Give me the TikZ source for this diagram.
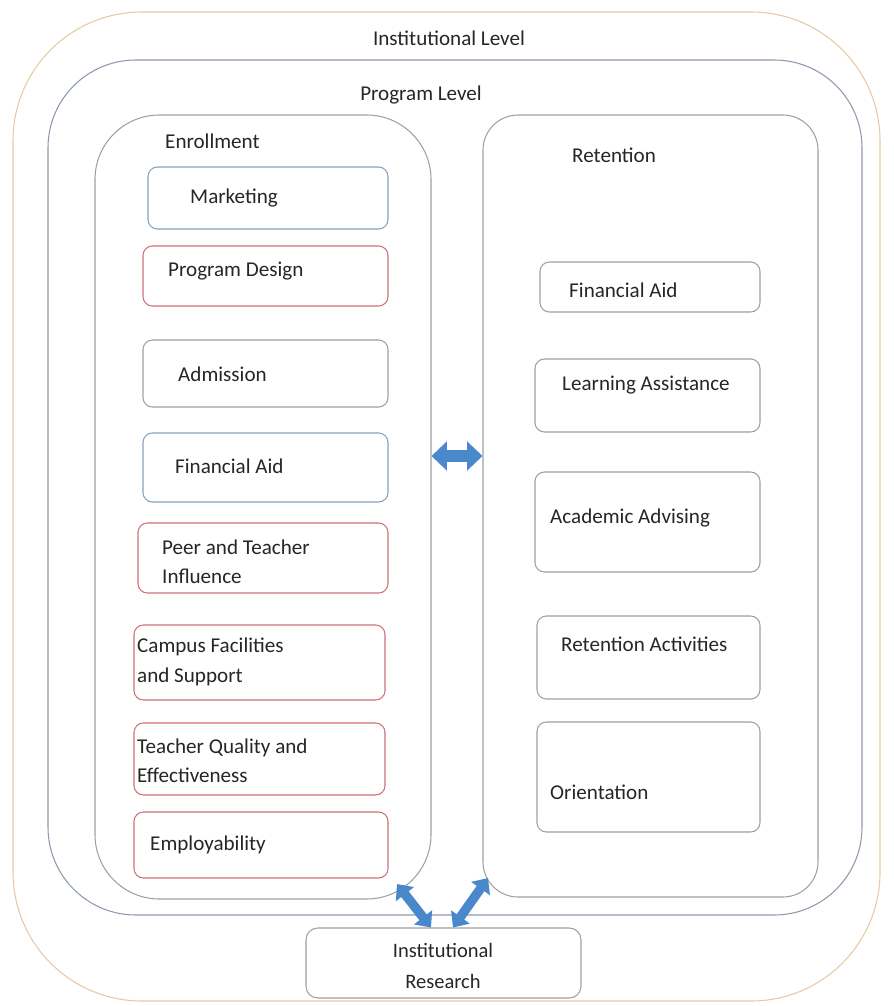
\documentclass[tikz,border=0pt]{standalone}
\usepackage{fontspec}
\setmainfont{Carlito}
\usetikzlibrary{fit,arrows.meta}
\definecolor{tan}{HTML}{E6C9A3}
\definecolor{proggray}{HTML}{8C9AAB}
\definecolor{boxgray}{HTML}{A0A0A0}
\definecolor{bluebox}{HTML}{86A2BE}
\definecolor{redbox}{HTML}{D0707A}
\definecolor{arrblue}{HTML}{4A88CC}
\definecolor{txt}{HTML}{262626}
\begin{document}
\begin{tikzpicture}[x=0.03cm,y=-0.03cm,
  every node/.style={text=txt,font=\fontsize{18}{25}\selectfont},
  frame/.style={draw,line width=0.9pt,inner sep=0pt},
  bbox/.style={draw=bluebox,line width=0.9pt,rounded corners=8pt,inner sep=0pt},
  rbox/.style={draw=redbox,line width=0.9pt,rounded corners=8pt,inner sep=0pt},
  gbox/.style={draw=boxgray,line width=0.9pt,rounded corners=8pt,inner sep=0pt},
  lbl/.style={anchor=west,align=left,inner sep=0pt},
  blockarrowsm/.style={line width=8pt,arrblue,
    {Triangle[width=19pt,length=11pt]}-{Triangle[width=19pt,length=11pt]}},
  blockarrowlg/.style={line width=10pt,arrblue,
    {Triangle[width=24pt,length=13pt]}-{Triangle[width=24pt,length=13pt]}}
]
\useasboundingbox (0,0) rectangle (893,1006);
% outer frames
\node[frame,draw=tan,rounded corners=110pt,fit={(13,12) (880,1001)}] (inst) {};
\node[frame,draw=proggray,rounded corners=75pt,fit={(48,60) (862,915)}] (prog) {};
\node[frame,draw=boxgray,rounded corners=55pt,fit={(95,115) (431,899)}] (enr) {};
\node[frame,draw=boxgray,rounded corners=30pt,fit={(483,115) (818,897)}] (ret) {};
\node (instlbl) at (449,38) {Institutional Level};
\node (proglbl) at (421,95) {Program Level};
\node[lbl] (enrlbl) at (165,141) {Enrollment};
\node[lbl] (retlbl) at (572,155) {Retention};
% enrollment boxes
\node[bbox,fit={(148,167) (388,229)}] (mk) {};
\node[lbl] (mkt) at (190,198) {Marketing};
\node[rbox,fit={(143,246) (388,306)}] (pd) {};
\node[lbl] (pdt) at (168,271) {Program Design};
\node[gbox,fit={(143,340) (388,407)}] (ad) {};
\node[lbl] (adt) at (178,374) {Admission};
\node[bbox,fit={(143,433) (388,502)}] (fa) {};
\node[lbl] (fat) at (175,466) {Financial Aid};
\node[rbox,fit={(138,523) (388,593)}] (pt) {};
\node[lbl] (ptt) at (162,562) {Peer and Teacher\\Influence};
\node[rbox,fit={(134,625) (385,700)}] (cf) {};
\node[lbl] (cft) at (137,662) {Campus Facilities\\and Support};
\node[rbox,fit={(134,723) (385,795)}] (tq) {};
\node[lbl] (tqt) at (137,761) {Teacher Quality and\\Effectiveness};
\node[rbox,fit={(134,812) (388,878)}] (em) {};
\node[lbl] (emt) at (150,845) {Employability};
% retention boxes
\node[gbox,fit={(540,262) (760,312)}] (rfa) {};
\node[lbl] (rfat) at (569,290) {Financial Aid};
\node[gbox,fit={(535,359) (760,432)}] (la) {};
\node[lbl] (lat) at (562,385) {Learning Assistance};
\node[gbox,fit={(535,472) (760,572)}] (aa) {};
\node[lbl] (aat) at (550,518) {Academic Advising};
\node[gbox,fit={(537,616) (760,699)}] (ra) {};
\node[lbl] (rat) at (561,644) {Retention Activities};
\node[gbox,fit={(537,722) (760,832)}] (or) {};
\node[lbl] (ort) at (550,792) {Orientation};
% institutional research
\node[gbox,rounded corners=10pt,fit={(306,928) (581,998)}] (ir) {};
\node[align=center,font=\fontsize{17.5}{26}\selectfont] (irt) at (443,966) {Institutional\\Research};
% arrows
\coordinate (h1) at (enr.east |- 0,456);
\coordinate (h2) at (ret.west |- 0,456);
\draw[blockarrowlg] (h1) -- (h2);
\coordinate (b1) at (397,884);
\coordinate (b2) at (ir.north -| 431,0);
\coordinate (b3) at (ir.north -| 453,0);
\coordinate (b4) at (488,878);
\draw[blockarrowsm] (b1) -- (b2);
\draw[blockarrowsm] (b3) -- (b4);
\end{tikzpicture}
\end{document}
